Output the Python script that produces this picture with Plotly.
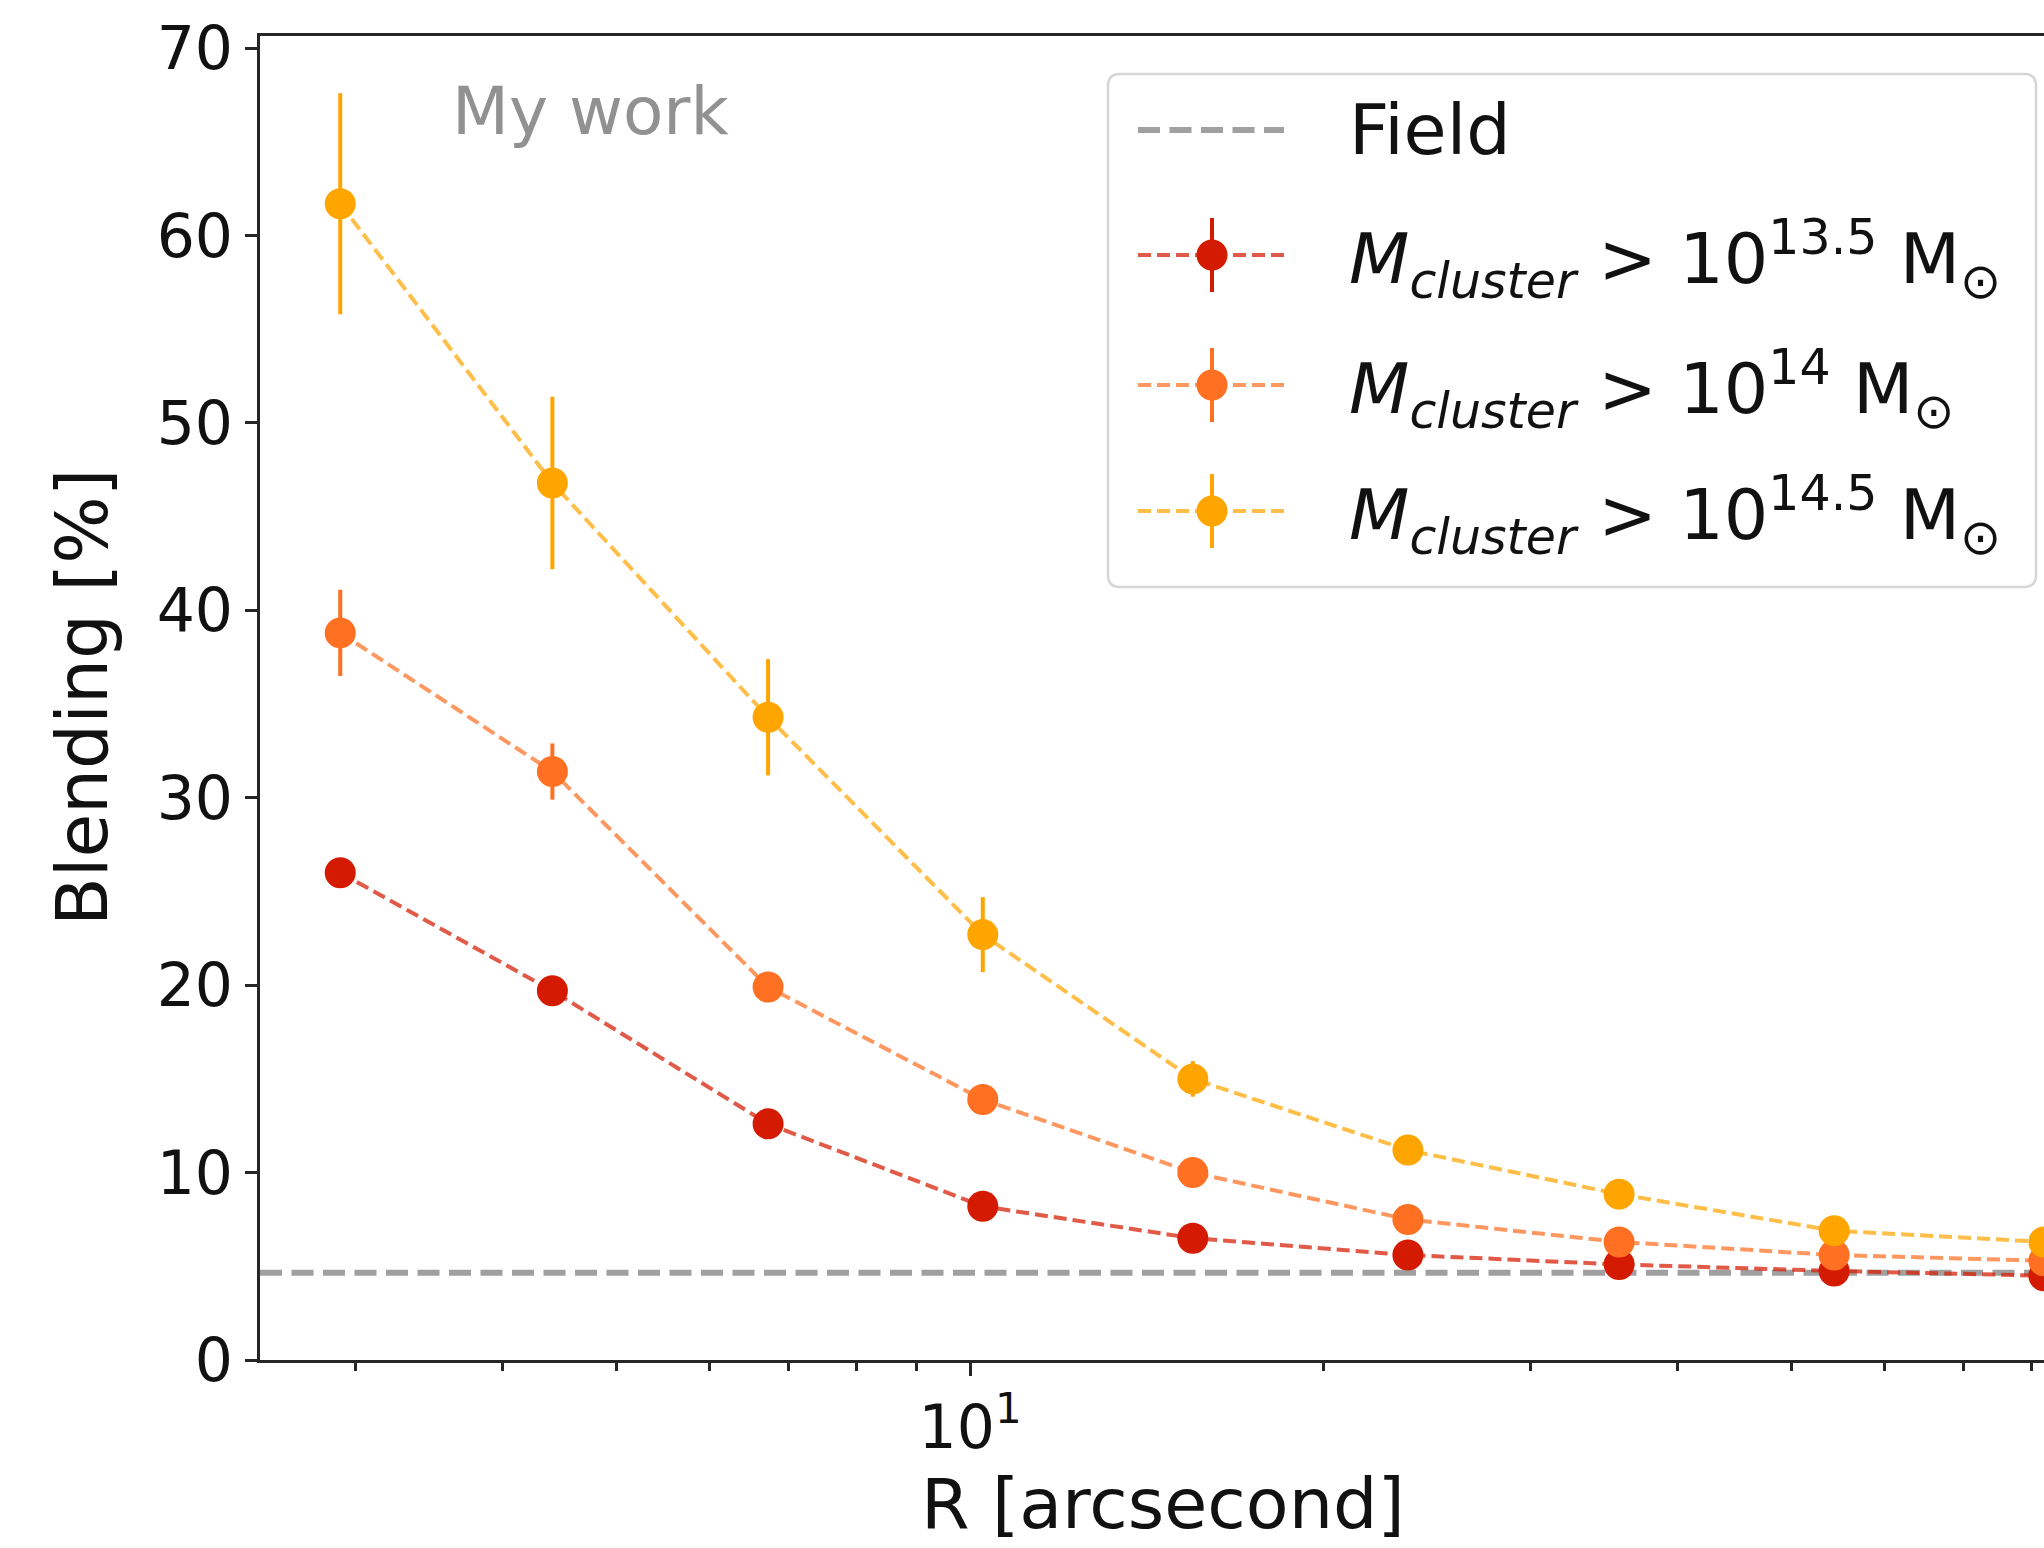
import plotly.graph_objects as go

# Radial bins (arcsec) and blending fractions (%) for three cluster-mass cuts
radius = [2.91, 4.41, 6.73, 10.25, 15.47, 23.58, 35.67, 54.36, 82.0]

blend_135 = [26.0, 19.7, 12.6, 8.2, 6.5, 5.6, 5.1, 4.75, 4.5]
err_135 = [0.5, 0.45, 0.4, 0.3, 0.25, 0.2, 0.15, 0.15, 0.1]

blend_140 = [38.8, 31.4, 19.9, 13.9, 10.0, 7.5, 6.3, 5.6, 5.3]
err_140 = [2.3, 1.5, 0.7, 0.6, 0.4, 0.3, 0.25, 0.2, 0.2]

blend_145 = [61.7, 46.8, 34.3, 22.7, 15.0, 11.2, 8.85, 6.9, 6.3]
err_145 = [5.9, 4.6, 3.1, 2.0, 0.95, 0.7, 0.5, 0.4, 0.3]

field_level = 4.66

series_labels = [
    "<i>M</i><sub><i>cluster</i></sub> > 10<sup>13.5</sup> M<sub>⊙</sub>",
    "<i>M</i><sub><i>cluster</i></sub> > 10<sup>14</sup> M<sub>⊙</sub>",
    "<i>M</i><sub><i>cluster</i></sub> > 10<sup>14.5</sup> M<sub>⊙</sub>",
]
series_colors = ["#d41a00", "#ff7023", "#ffa500"]
series_lines = ["rgba(212,26,0,0.72)", "rgba(255,112,35,0.72)", "rgba(255,165,0,0.72)"]

y_ticks = [0, 10, 20, 30, 40, 50, 60, 70]
x_major = [10]
x_major_text = ["10<sup>1</sup>"]
x_minor = [3, 4, 5, 6, 7, 8, 9, 20, 30, 40, 50, 60, 70, 80]

FONT = "DejaVu Sans"
W, H = 2044, 1548
L, R, T, B = 260, 0, 36, 188
PW, PH = W - L - R, H - T - B
MARKER = 31


def px(x):
    return (x - L) / PW


def py(y):
    return (H - B - y) / PH


fig = go.Figure()

data = [(blend_135, err_135), (blend_140, err_140), (blend_145, err_145)]
for (vals, errs), col, lcol, name in zip(data, series_colors, series_lines, series_labels):
    fig.add_trace(go.Scatter(
        x=radius, y=vals, mode="lines+markers", name=name,
        line=dict(color=lcol, width=4, dash="13px,6px"),
        marker=dict(color=col, size=MARKER, line=dict(width=0)),
        error_y=dict(type="data", array=errs, visible=True, color=col,
                     thickness=4, width=0),
        showlegend=False,
    ))

shapes = []
annotations = []

# field reference level
shapes.append(dict(type="line", xref="paper", x0=0, x1=1, yref="y",
                   y0=field_level, y1=field_level, layer="below",
                   line=dict(color="rgba(160,160,160,1)", width=6, dash="22px,9.5px")))

# legend frame
bx0, bx1, by0, by1, rad = px(1108), px(2036), py(74), py(587), 12
rx, ry = rad / PW, rad / PH
path = (f"M{bx0+rx},{by0} L{bx1-rx},{by0} Q{bx1},{by0} {bx1},{by0-ry} "
        f"L{bx1},{by1+ry} Q{bx1},{by1} {bx1-rx},{by1} "
        f"L{bx0+rx},{by1} Q{bx0},{by1} {bx0},{by1+ry} "
        f"L{bx0},{by0-ry} Q{bx0},{by0} {bx0+rx},{by0} Z")
shapes.append(dict(type="path", xref="paper", yref="paper", path=path,
                   fillcolor="rgba(255,255,255,0.85)",
                   line=dict(color="rgb(214,214,214)", width=2.5)))

key_x0, key_x1, key_xm, text_x = 1138, 1284, 1212, 1347
rows = [130, 255, 385, 511]

shapes.append(dict(type="line", xref="paper", yref="paper",
                   x0=px(key_x0), x1=px(key_x1), y0=py(rows[0]), y1=py(rows[0]),
                   line=dict(color="rgba(160,160,160,1)", width=6, dash="22px,9.5px")))
annotations.append(dict(text="Field", xref="paper", yref="paper", x=px(text_x), y=py(rows[0]),
                        xanchor="left", yanchor="middle", showarrow=False,
                        font=dict(family=FONT, size=70, color="#111111")))

half = MARKER / 2
for row, col, lcol, name in zip(rows[1:], series_colors, series_lines, series_labels):
    shapes.append(dict(type="line", xref="paper", yref="paper",
                       x0=px(key_x0), x1=px(key_x1), y0=py(row), y1=py(row),
                       line=dict(color=lcol, width=4, dash="13px,6px")))
    shapes.append(dict(type="line", xref="paper", yref="paper",
                       x0=px(key_xm), x1=px(key_xm), y0=py(row - 37), y1=py(row + 37),
                       line=dict(color=col, width=4)))
    shapes.append(dict(type="circle", xref="paper", yref="paper",
                       xsizemode="pixel", ysizemode="pixel",
                       xanchor=px(key_xm), yanchor=py(row),
                       x0=-half, x1=half, y0=-half, y1=half,
                       fillcolor=col, line=dict(width=0)))
    annotations.append(dict(text=name, xref="paper", yref="paper", x=px(text_x), y=py(row + 4),
                            xanchor="left", yanchor="middle", showarrow=False,
                            font=dict(family=FONT, size=70, color="#111111")))

annotations.append(dict(text="My work", xref="paper", yref="paper", x=px(590), y=py(112),
                        xanchor="center", yanchor="middle", showarrow=False,
                        font=dict(family=FONT, size=66, color="rgb(145,145,145)")))

annotations.append(dict(text="Blending [%]", xref="paper", yref="paper", x=px(82), y=py(698),
                        xanchor="center", yanchor="middle", showarrow=False, textangle=-90,
                        font=dict(family=FONT, size=71, color="#111111")))
annotations.append(dict(text="R [arcsecond]", xref="paper", yref="paper", x=px(1163), y=py(1504),
                        xanchor="center", yanchor="middle", showarrow=False,
                        font=dict(family=FONT, size=70, color="#111111")))

axis_col = "#262626"
fig.update_layout(
    width=W, height=H,
    margin=dict(l=L, r=R, t=T, b=B, pad=0),
    paper_bgcolor="white", plot_bgcolor="white",
    font=dict(family=FONT, color="#111111"),
    showlegend=False,
    shapes=shapes, annotations=annotations,
    xaxis=dict(type="log", range=[0.3956, 1.9139],
               showline=True, linecolor=axis_col, linewidth=3, mirror=True,
               showgrid=False, zeroline=False,
               tickmode="array", tickvals=x_major, ticktext=x_major_text,
               ticks="outside", ticklen=13, tickwidth=3, tickcolor=axis_col,
               tickfont=dict(family=FONT, size=60, color="#111111"),
               minor=dict(tickmode="array", tickvals=x_minor, ticks="outside",
                          ticklen=8, tickwidth=2.5, tickcolor=axis_col, showgrid=False)),
    yaxis=dict(range=[0, 70.65],
               showline=True, linecolor=axis_col, linewidth=3, mirror=False,
               showgrid=False, zeroline=False,
               tickmode="array", tickvals=y_ticks,
               ticks="outside", ticklen=12, tickwidth=3, tickcolor=axis_col,
               tickfont=dict(family=FONT, size=60, color="#111111")),
)

fig.write_html("out.html")
